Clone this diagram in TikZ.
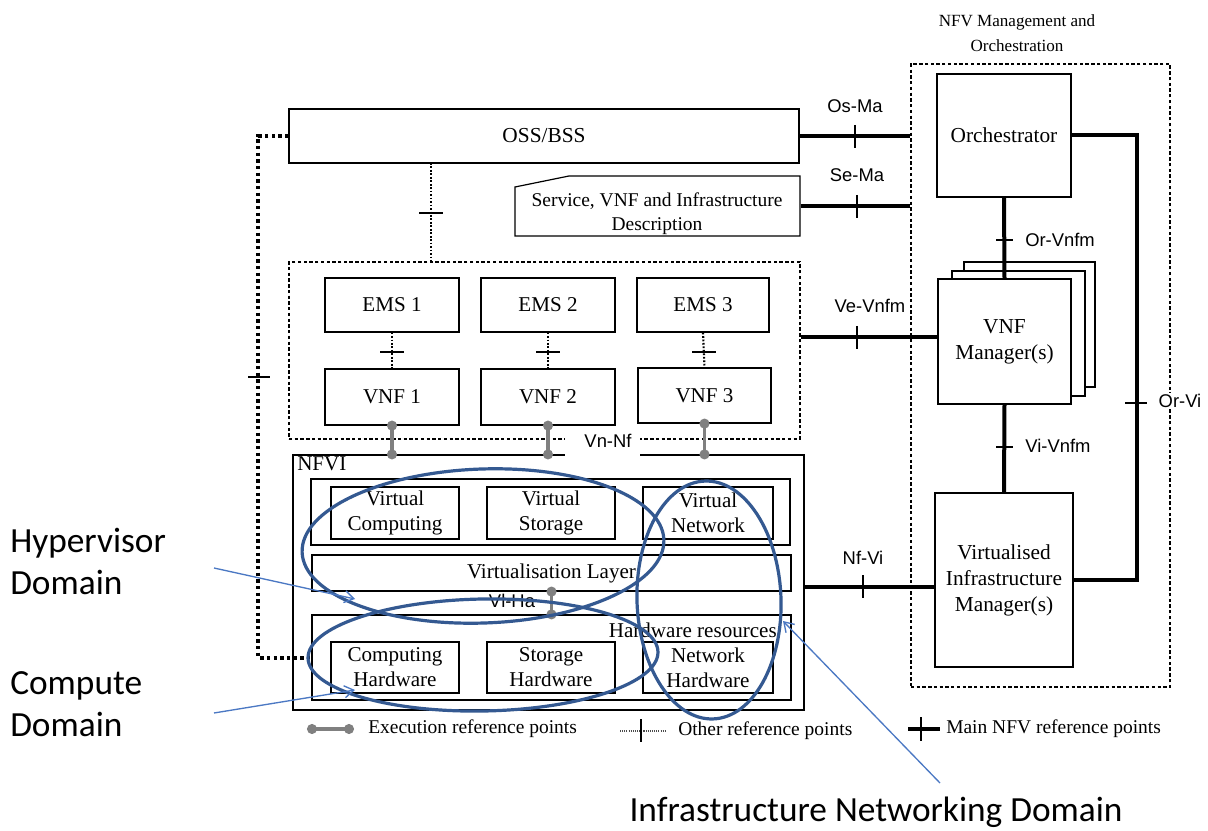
\documentclass[tikz,border=0pt]{standalone}
\usepackage{fontspec}
\setmainfont{Liberation Serif}
\setsansfont{Liberation Sans}
\newfontfamily\calib{Carlito}
\usetikzlibrary{arrows.meta}
\definecolor{ellblue}{RGB}{52,89,145}
\definecolor{arrblue}{RGB}{75,120,195}
\definecolor{refgray}{RGB}{128,128,128}
% \mybox[style]{name}{x1}{y1}{x2}{y2}{text}
\newcommand\mybox[7][]{\node[box,#1, minimum width={(#5-#3)*0.75pt}, minimum height={(#6-#4)*0.75pt}] (#2) at ({(#3+#5)/2},{(#4+#6)/2}) {#7};}
\begin{document}
\begin{tikzpicture}[x=0.75pt,y=-0.75pt,
  box/.style={draw, line width=0.9pt, inner sep=0pt, fill=white, align=center, font=\fontsize{15.8}{18.75}\selectfont},
  plain/.style={draw=none, inner sep=0pt, align=center},
  dbox/.style={draw, line width=0.8pt, dash pattern=on 2.5pt off 1.8pt, fill=none},
  mainref/.style={line width=3pt},
  tk/.style={line width=1pt},
  tkb/.style={line width=2.2pt},
  dotref/.style={line width=1.6pt, dash pattern=on 1.3pt off 1.3pt},
  bigdot/.style={line width=3pt, dash pattern=on 2.6pt off 2.4pt},
  exref/.style={draw=refgray, line width=2.4pt},
  lbl/.style={font=\sffamily\fontsize{13.8}{16}\selectfont, inner sep=1pt},
  dom/.style={draw=ellblue, line width=2.4pt},
  darr/.style={draw=arrblue, line width=1pt, -{Straight Barb[length=7pt,width=9pt]}},
  domtxt/.style={font=\calib\fontsize{26.5}{31.5}\selectfont, align=left, inner sep=0pt},
  leg/.style={font=\fontsize{14.6}{17}\selectfont, anchor=west, inner sep=0pt}
]
\useasboundingbox (0,0) rectangle (1208,831);

% ---------- MANO ----------
\mybox[dbox]{mano}{911}{64}{1170}{687}{}
\node[plain, font=\fontsize{12.8}{18.75}\selectfont] (manot) at (1017,33) {NFV Management and\\Orchestration};
\mybox[font=\fontsize{16}{19}\selectfont]{orch}{937}{74}{1071}{197}{Orchestrator}
\mybox{vnfmc}{964}{262}{1095}{387}{}
\mybox{vnfmb}{952}{271}{1085}{396}{}
\mybox[font=\fontsize{16}{19.5}\selectfont]{vnfm}{938}{279}{1071}{404}{VNF\\Manager(s)}
\mybox[font=\fontsize{16}{19.5}\selectfont]{vim}{935}{493}{1073}{667}{Virtualised\\Infrastructure\\Manager(s)}

% ---------- OSS / description ----------
\mybox[font=\fontsize{16}{19}\selectfont]{oss}{289}{109}{799}{163}{OSS/BSS}
\mybox[draw=none, fill=none]{svc}{515}{176}{800}{236}{}
\draw[line width=0.9pt] (515,187) -- (569,176) -- (800,176) -- (800,236) -- (515,236) -- cycle;
\node[plain, font=\fontsize{14.6}{18}\selectfont] (svct) at (657,214) {Service, VNF and Infrastructure\\Description};

% ---------- VNF domain ----------
\mybox[dbox]{vnfdom}{289}{262}{800}{439}{}
\mybox{ems1}{325}{278}{459}{332}{EMS 1}
\mybox{ems2}{481}{278}{615}{332}{EMS 2}
\mybox{ems3}{637}{278}{769}{332}{EMS 3}
\mybox{vnf1}{325}{369}{459}{425}{VNF 1}
\mybox{vnf2}{481}{369}{615}{425}{VNF 2}
\mybox{vnf3}{638}{368}{771}{423}{VNF 3}

% ---------- NFVI ----------
\mybox{nfvi}{293}{455}{804}{710}{}
\node[plain, anchor=north west, font=\fontsize{15.8}{18}\selectfont] (nfvit) at (297,456) {NFVI};
\mybox{vrow}{311}{479}{790}{545}{}
\mybox{vcomp}{331}{487}{459}{539}{Virtual\\Computing}
\mybox{vstor}{487}{487}{615}{539}{Virtual\\Storage}
\mybox{vnet}{643}{487}{773}{539}{Virtual\\Network}
\mybox{vlayer}{312}{555}{791}{591}{Virtualisation Layer}
\mybox{hw}{312}{615}{791}{700}{}
\node[plain, anchor=east, font=\fontsize{15.8}{18}\selectfont] (hwt) at (777,630) {Hardware resources};
\mybox{chw}{331}{642}{459}{693}{Computing\\Hardware}
\mybox{shw}{487}{642}{615}{693}{Storage\\Hardware}
\mybox{nhw}{643}{642}{773}{693}{Network\\Hardware}

% ---------- main reference points ----------
\draw[mainref] (oss.east) -- (oss.east -| mano.west);
\draw[tk] (855,125) -- (855,148);
\node[lbl] (osma) at (855,106) {Os-Ma};
\draw[mainref] (svc.east) -- (svc.east -| mano.west);
\draw[tk] (857,195) -- (857,218);
\node[lbl] (sema) at (857,175) {Se-Ma};
\coordinate (veL) at (vnfdom.east |- 0,337);
\coordinate (veR) at (vnfm.west |- 0,337);
\draw[mainref] (veL) -- (veR);
\draw[tk] (857,326) -- (857,349);
\node[lbl] (vevnfm) at (870,306) {Ve-Vnfm};
\coordinate (nfviR) at (nfvi.east |- 0,587);
\coordinate (vimL) at (vim.west |- 0,587);
\draw[mainref] (nfviR) -- (vimL);
\draw[tk] (863,575) -- (863,598);
\node[lbl] (nfvi_l) at (863,558) {Nf-Vi};
\draw[mainref] (orch.south) -- (vnfm.north);
\draw[tk] (996,240) -- (1013,240);
\node[lbl] (orvnfm) at (1060,240) {Or-Vnfm};
\draw[mainref] (vnfm.south) -- (vim.north);
\draw[tk] (996,447) -- (1013,447);
\node[lbl] (vivnfm) at (1058,446) {Vi-Vnfm};
\draw[mainref] (orch.east) -- ++(65,0) |- (vim.east);
\draw[tk] (1125,403) -- (1147,403);
\node[lbl, fill=white] (orvi) at (1180,401) {Or-Vi};

% ---------- other reference points ----------
\coordinate (ossD) at (431,163); \coordinate (domU) at (431,262);
\draw[dotref] (ossD) -- (domU);
\draw[tkb] (419,213) -- (443,213);
\draw[dotref] (ems1.south) -- (vnf1.north);
\draw[tkb] (380,352) -- (404,352);
\draw[dotref] (ems2.south) -- (vnf2.north);
\draw[tkb] (536,352) -- (560,352);
\draw[dotref] (ems3.south) -- (vnf3.north);
\draw[tkb] (692,352) -- (716,352);
\draw[bigdot] (oss.west) -- ++(-30,0) |- (hw.west);
\draw[tk] (248,377) -- (270,377);

% ---------- execution reference points ----------
\fill[white] (565,431) rectangle (640,458);
\node[lbl] (vnnf) at (608,441) {Vn-Nf};
\foreach \v in {vnf1,vnf2,vnf3}{
  \draw[exref] (\v.south) -- (\v.south |- nfvi.north);
  \fill[refgray] (\v.south) circle (3.8pt);
  \fill[refgray] (\v.south |- nfvi.north) circle (3.8pt);
}
\draw[exref] (vlayer.south) -- (hw.north);
\fill[refgray] (vlayer.south) circle (3.8pt);
\fill[refgray] (hw.north) circle (3.8pt);
\node[lbl] (vlha) at (512,601) {Vl-Ha};

% ---------- legend ----------
\coordinate (lg1a) at (312,729); \coordinate (lg1b) at (349,729);
\draw[exref] (lg1a) -- (lg1b);
\fill[refgray] (lg1a) circle (3.8pt); \fill[refgray] (lg1b) circle (3.8pt);
\node[leg] (lgt1) at (368,729) {Execution reference points};
\coordinate (lg2a) at (620,731); \coordinate (lg2b) at (666,731);
\draw[line width=0.8pt, dash pattern=on 0.8pt off 0.8pt, draw=black!70] (lg2a) -- (lg2b);
\draw[tk] (641,719) -- (641,742);
\node[leg] (lgt2) at (678,731) {Other reference points};
\coordinate (lg3a) at (908,729); \coordinate (lg3b) at (940,729);
\draw[mainref] (lg3a) -- (lg3b);
\draw[tk] (921,717) -- (921,741);
\node[leg] (lgt3) at (946,729) {Main NFV reference points};

% ---------- domains ----------
\draw[dom, rotate around={2:(483,546)}] (483,546) ellipse [x radius=181, y radius=77];
\draw[dom, rotate around={1:(483,655)}] (483,655) ellipse [x radius=175, y radius=56];
\draw[dom, rotate around={2:(709,600)}] (709,600) ellipse [x radius=72, y radius=119];

\node[domtxt, anchor=north west] (hyp) at (10,528) {Hypervisor\\Domain};
\node[domtxt, anchor=north west] (comp) at (10,671) {Compute\\Domain};
\node[domtxt] (infra) at (876,812) {Infrastructure Networking Domain};
\coordinate (a1s) at (214,568); \coordinate (a1e) at (355,599);
\coordinate (a2s) at (214,713); \coordinate (a2e) at (355,690);
\coordinate (a3s) at (940,783); \coordinate (a3e) at (783,621);
\draw[darr] (a1s) -- (a1e);
\draw[darr] (a2s) -- (a2e);
\draw[darr] (a3s) -- (a3e);
\end{tikzpicture}
\end{document}
